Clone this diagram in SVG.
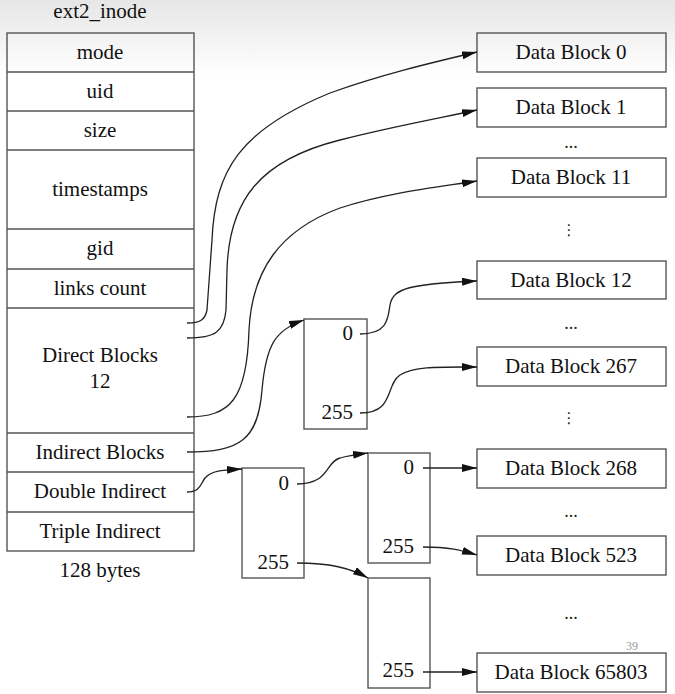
<svg xmlns="http://www.w3.org/2000/svg" width="675" height="694" viewBox="0 0 675 694">
<defs>
<linearGradient id="bg" x1="0" y1="0" x2="0" y2="1">
<stop offset="0" stop-color="#e6e6e6"/>
<stop offset="1" stop-color="#ffffff"/>
</linearGradient>
<marker id="arr" markerUnits="userSpaceOnUse" markerWidth="16" markerHeight="10" refX="15" refY="4" orient="auto">
<path d="M0,0 L15,4 L0,8 z" fill="#111"/>
</marker>
<style>
.box{fill:none;stroke:#555;stroke-width:1.4}
.t{font-size:21px;fill:#111}
.c{text-anchor:middle}
.r{text-anchor:end}
.dots{font-size:18px;fill:#222;text-anchor:middle}
.vd{font-family:"DejaVu Sans",sans-serif;font-size:15px;fill:#222;text-anchor:middle}
.a{fill:none;stroke:#222;stroke-width:1.3;marker-end:url(#arr)}
</style>
</defs>
<rect x="0" y="0" width="675" height="694" fill="#fff"/>
<rect x="0" y="0" width="675" height="75" fill="url(#bg)"/>
<g font-family="'Liberation Serif', 'Times New Roman', 'DejaVu Serif', serif">
<g id="inode">
<text class="t c" x="100" y="18">ext2_inode</text>
<rect class="box" x="7" y="33" width="187" height="518"/>
<line class="box" x1="7" y1="72" x2="194" y2="72"/>
<line class="box" x1="7" y1="111" x2="194" y2="111"/>
<line class="box" x1="7" y1="150" x2="194" y2="150"/>
<line class="box" x1="7" y1="229" x2="194" y2="229"/>
<line class="box" x1="7" y1="269" x2="194" y2="269"/>
<line class="box" x1="7" y1="308" x2="194" y2="308"/>
<line class="box" x1="7" y1="433" x2="194" y2="433"/>
<line class="box" x1="7" y1="472" x2="194" y2="472"/>
<line class="box" x1="7" y1="512" x2="194" y2="512"/>
<text class="t c" x="100" y="59">mode</text>
<text class="t c" x="100" y="98">uid</text>
<text class="t c" x="100" y="137">size</text>
<text class="t c" x="100" y="196">timestamps</text>
<text class="t c" x="100" y="255">gid</text>
<text class="t c" x="100" y="295">links count</text>
<text class="t c" x="100" y="362">Direct Blocks</text>
<text class="t c" x="100" y="388">12</text>
<text class="t c" x="100" y="459">Indirect Blocks</text>
<text class="t c" x="100" y="498">Double Indirect</text>
<text class="t c" x="100" y="538">Triple Indirect</text>
<text class="t c" x="100" y="577">128 bytes</text>
</g>

<g id="ind1">
<rect class="box" x="304" y="319" width="63" height="110"/>
<text class="t r" x="353" y="340">0</text>
<text class="t r" x="353" y="419">255</text>
</g>
<g id="dind1">
<rect class="box" x="242" y="468" width="62" height="110"/>
<text class="t r" x="289" y="490">0</text>
<text class="t r" x="289" y="569">255</text>
</g>
<g id="dind2a">
<rect class="box" x="368" y="453" width="62" height="110"/>
<text class="t r" x="414" y="474">0</text>
<text class="t r" x="414" y="553">255</text>
</g>
<g id="dind2b">
<rect class="box" x="368" y="578" width="62" height="110"/>
<text class="t r" x="414" y="677">255</text>
</g>

<g id="db0"><rect class="box" x="477" y="33" width="189" height="39"/><text class="t c" x="571" y="59">Data Block 0</text></g>
<g id="db1"><rect class="box" x="477" y="88" width="189" height="39"/><text class="t c" x="571" y="114">Data Block 1</text></g>
<g id="db11"><rect class="box" x="477" y="158" width="189" height="39"/><text class="t c" x="571" y="184">Data Block 11</text></g>
<g id="db12"><rect class="box" x="477" y="261" width="189" height="38"/><text class="t c" x="571" y="287">Data Block 12</text></g>
<g id="db267"><rect class="box" x="477" y="347" width="189" height="39"/><text class="t c" x="571" y="373">Data Block 267</text></g>
<g id="db268"><rect class="box" x="477" y="449" width="189" height="39"/><text class="t c" x="571" y="475">Data Block 268</text></g>
<g id="db523"><rect class="box" x="477" y="536" width="189" height="39"/><text class="t c" x="571" y="562">Data Block 523</text></g>
<g id="db65803"><rect class="box" x="477" y="653" width="189" height="39"/><text class="t c" x="571" y="679">Data Block 65803</text></g>

<g id="ellipses">
<text class="dots" x="571" y="148">...</text>
<text class="vd" x="569" y="235">⋮</text>
<text class="dots" x="571" y="329">...</text>
<text class="vd" x="569" y="423">⋮</text>
<text class="dots" x="571" y="517">...</text>
<text class="dots" x="571" y="619">...</text>
</g>
<text x="632" y="650" font-size="12" fill="#999" text-anchor="middle">39</text>
</g>
<g id="connectors">
<path class="a" d="M187,323 C200,323 205,320 207,310 L212,240 C215,170 240,130 330,93 C380,75 430,63 477,52"/>
<path class="a" d="M187,338 C215,338 224,332 226,310 L227,270 C229,200 260,160 340,140 C390,127 440,118 477,110"/>
<path class="a" d="M187,417 C230,417 247,400 249,330 C252,270 280,230 340,208 C390,192 440,187 477,181"/>
<path class="a" d="M187,452 C240,452 258,440 262,390 C266,345 275,330 304,320"/>
<path class="a" d="M187,492 C200,492 200,485 205,478 C212,470 225,470 242,469"/>
<path class="a" d="M297,484 C330,484 325,462 340,458 C350,455 360,454 368,453"/>
<path class="a" d="M297,563 C330,563 350,568 368,578"/>
<path class="a" d="M360,334 C388,334 388,318 390,305 C393,288 410,284 477,281"/>
<path class="a" d="M360,413 C395,413 385,385 400,375 C415,366 440,367 477,367"/>
<path class="a" d="M423,468 L477,468"/>
<path class="a" d="M423,547 C450,547 460,550 477,555"/>
<path class="a" d="M423,672 L477,672"/>
</g>
</svg>
